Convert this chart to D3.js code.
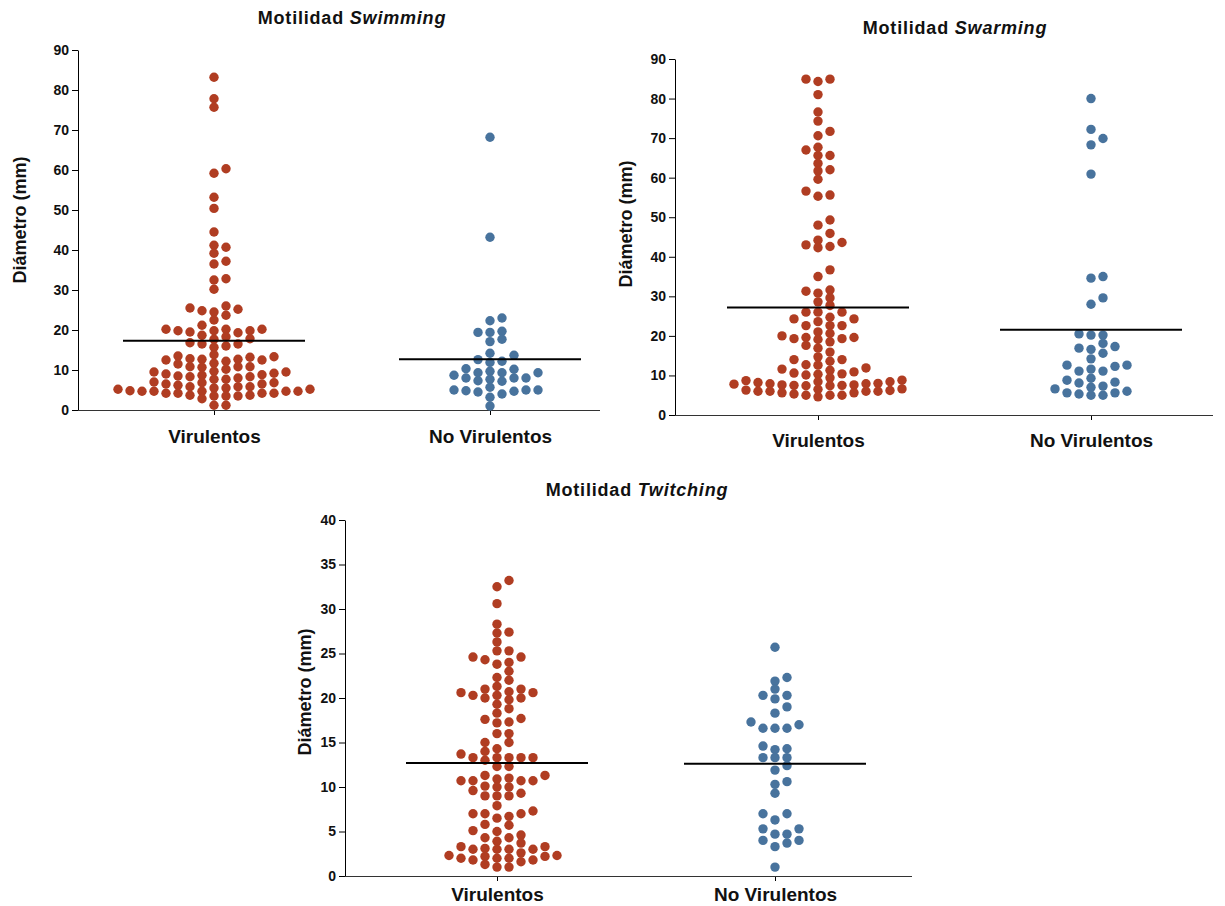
<!DOCTYPE html>
<html>
<head>
<meta charset="utf-8">
<script src="https://cdn.jsdelivr.net/npm/d3@7"></script>
<style>
  html, body { margin: 0; padding: 0; background: #fff; }
  svg { display: block; font-family: "Liberation Sans", Arial, sans-serif; }
</style>
</head>
<body>
<svg id="chart" width="1225" height="906"></svg>
<script>
// Groups shown on every panel
const groups = ["Virulentos", "No Virulentos"];

// Swimming motility diameters (mm)
const swimmingVirulentos = [
  83.2, 77.8, 75.7, 60.3, 59.2, 53.2, 50.4, 44.5, 41.2, 40.7, 39.2, 37.2, 36.5, 32.8, 32.5, 30.2,
  26.0, 25.5, 25.2, 24.8, 24.5, 23.7, 22.5, 21.2, 20.2, 20.2, 20.2, 19.8, 19.8, 19.8, 19.5, 19.3,
  18.7, 18.3, 17.8, 17.7, 16.8, 16.5, 16.5, 16.0, 15.7, 13.8, 13.5, 13.3, 13.2, 12.8, 12.7, 12.7,
  12.5, 12.5, 12.2, 11.7, 11.5, 10.8, 10.8, 10.8, 10.7, 10.2, 9.7, 9.5, 9.5, 9.2, 9.0, 8.8, 8.7,
  8.5, 8.3, 8.3, 8.0, 7.7, 7.7, 7.0, 6.8, 6.8, 6.5, 6.5, 6.2, 5.8, 5.8, 5.8, 5.5, 5.5, 5.2, 5.2,
  4.8, 4.7, 4.7, 4.7, 4.7, 4.7, 4.2, 4.2, 4.2, 4.2, 3.7, 3.7, 3.5, 3.5, 3.5, 2.8, 1.2, 1.2
];
const swimmingNoVirulentos = [
  68.2, 43.2, 23.0, 22.3, 19.7, 19.4, 19.4, 17.7, 17.1, 14.2, 13.7, 12.6, 12.2, 11.9, 10.3, 10.2,
  9.7, 9.3, 9.3, 9.3, 8.7, 8.0, 8.0, 8.0, 7.7, 7.3, 7.2, 5.7, 5.0, 5.0, 5.0, 4.8, 4.7, 4.5, 4.0, 3.2, 1.0
];

// Swarming motility diameters (mm)
const swarmingVirulentos = [
  84.9, 84.9, 84.3, 81.0, 76.6, 74.3, 71.7, 70.6, 67.7, 67.0, 65.6, 65.6, 63.6, 62.0, 61.7, 59.6,
  56.6, 55.6, 55.3, 49.3, 48.0, 45.9, 44.2, 43.6, 43.0, 42.6, 42.3, 36.7, 35.0, 31.6, 31.3, 30.8,
  29.6, 28.6, 27.7, 26.0, 26.0, 26.0, 24.7, 24.3, 24.3, 23.6, 22.6, 22.6, 22.6, 21.0, 20.6, 20.0,
  19.6, 19.6, 19.3, 19.3, 19.1, 18.5, 17.6, 16.9, 15.9, 14.7, 14.0, 14.0, 13.6, 12.7, 12.6, 11.9,
  11.6, 11.3, 10.9, 10.6, 10.4, 10.3, 10.1, 9.4, 8.8, 8.7, 8.4, 8.4, 8.2, 8.0, 7.9, 7.9, 7.8, 7.6,
  7.6, 7.5, 7.5, 7.4, 7.4, 6.6, 6.5, 6.3, 6.2, 6.0, 6.0, 6.0, 6.0, 5.6, 5.6, 5.3, 5.0, 5.0, 5.0, 4.6
];
const swarmingNoVirulentos = [
  80.0, 72.2, 69.9, 68.3, 60.9, 35.0, 34.6, 29.6, 28.0, 20.5, 20.2, 20.2, 18.1, 17.3, 16.9, 16.6,
  15.6, 14.2, 12.6, 12.6, 12.3, 11.6, 11.1, 11.1, 9.3, 8.8, 8.3, 8.1, 7.3, 7.0, 6.6, 6.0, 5.6, 5.6,
  5.3, 5.0, 5.0
];

// Twitching motility diameters (mm)
const twitchingVirulentos = [
  33.2, 32.5, 30.6, 28.3, 27.4, 27.3, 26.3, 25.3, 25.3, 24.6, 24.6, 24.3, 24.0, 23.8, 23.0, 22.3,
  22.0, 21.3, 21.0, 21.0, 20.7, 20.6, 20.6, 20.3, 20.3, 20.0, 20.0, 19.8, 19.3, 18.8, 18.3, 17.7,
  17.6, 17.3, 17.2, 16.0, 16.0, 15.0, 15.0, 14.3, 14.0, 13.7, 13.3, 13.3, 13.3, 13.3, 13.3, 13.0,
  12.3, 12.3, 11.3, 11.3, 11.0, 10.9, 10.7, 10.7, 10.7, 10.7, 10.1, 10.0, 10.0, 9.6, 9.3, 9.0, 9.0,
  9.0, 7.9, 7.3, 7.0, 7.0, 7.0, 6.7, 6.5, 5.8, 5.7, 5.1, 5.0, 4.6, 4.3, 4.3, 3.9, 3.7, 3.3, 3.3,
  3.1, 3.0, 3.0, 3.0, 3.0, 2.6, 2.3, 2.3, 2.2, 2.2, 2.0, 2.0, 2.0, 1.8, 1.8, 1.6, 1.3, 1.0, 1.0
];
const twitchingNoVirulentos = [
  25.7, 22.3, 21.9, 21.0, 20.3, 20.3, 19.9, 19.0, 18.3, 17.3, 17.0, 16.6, 16.6, 16.6, 14.6, 14.3,
  14.2, 13.3, 13.3, 13.3, 12.4, 11.9, 10.6, 10.3, 9.3, 7.0, 7.0, 6.3, 5.3, 5.3, 4.7, 4.7, 4.0, 4.0,
  3.7, 3.3, 1.0
];

// Axis ticks
const ticksSwimming = [0, 10, 20, 30, 40, 50, 60, 70, 80, 90];
const ticksSwarming = [0, 10, 20, 30, 40, 50, 60, 70, 80, 90];
const ticksTwitching = [0, 5, 10, 15, 20, 25, 30, 35, 40];

const colors = { "Virulentos": "#B03D22", "No Virulentos": "#48739D" };
const yTitle = "Diámetro (mm)";

const panels = [
  { title: "Swimming", series: [swimmingVirulentos, swimmingNoVirulentos], ticks: ticksSwimming,
    left: 78, right: 600, top: 50, bottom: 410, first: 136, spacing: 276,
    titleX: 352, titleY: 18, yLabelX: 20, yLabelY: 220, labelGap: 15 },
  { title: "Swarming", series: [swarmingVirulentos, swarmingNoVirulentos], ticks: ticksSwarming,
    left: 675, right: 1213, top: 59, bottom: 415, first: 143, spacing: 273,
    titleX: 955, titleY: 28, yLabelX: 626, yLabelY: 224, labelGap: 14 },
  { title: "Twitching", series: [twitchingVirulentos, twitchingNoVirulentos], ticks: ticksTwitching,
    left: 345, right: 912, top: 520, bottom: 876, first: 152, spacing: 278,
    titleX: 637, titleY: 490, yLabelX: 305, yLabelY: 692, labelGap: 7 }
];

const svg = d3.select("#chart");
const R = 4.7;          // dot radius
const COL = 12;         // horizontal step between swarm columns
const MIN_SEP = 7.5;    // vertical gap needed inside one column
const HALF_MEAN = 91;   // half-length of the mean bar

// Column beeswarm: each value takes the nearest free column around the centre
function swarm(values, y) {
  const order = values.map((v, i) => i).sort((a, b) => values[a] - values[b]);
  const cols = new Map();
  const offs = new Array(values.length);
  for (const i of order) {
    const py = y(values[i]);
    for (let k = 0; ; k++) {
      const c = k === 0 ? 0 : (k % 2 ? (k + 1) / 2 : -k / 2);
      const used = cols.get(c) || [];
      if (used.every(q => Math.abs(q - py) >= MIN_SEP)) {
        used.push(py);
        cols.set(c, used);
        offs[i] = c * COL;
        break;
      }
    }
  }
  return offs;
}

panels.forEach(p => {
  const g = svg.append("g");
  const y = d3.scaleLinear().domain([p.ticks[0], p.ticks[p.ticks.length - 1]]).range([p.bottom, p.top]);
  const x = d3.scalePoint().domain(groups)
    .range([p.left + p.first, p.left + p.first + p.spacing]);

  // y axis
  const yAxis = g.append("g").attr("transform", `translate(${p.left},0)`)
    .call(d3.axisLeft(y).tickValues(p.ticks).tickSize(6).tickPadding(3).tickSizeOuter(0));
  yAxis.select(".domain").attr("stroke", "#000");
  yAxis.selectAll(".tick line").attr("stroke", "#000");
  yAxis.selectAll("text").attr("font-size", 14).attr("font-weight", "bold").attr("fill", "#111")
    .attr("font-family", "'Liberation Sans', Arial, sans-serif");

  // x axis
  const xAxis = g.append("g").attr("transform", `translate(0,${p.bottom})`)
    .call(d3.axisBottom(x).tickSize(5).tickPadding(p.labelGap).tickSizeOuter(0));
  xAxis.select(".domain").remove();
  xAxis.selectAll(".tick line").attr("stroke", "#000");
  xAxis.selectAll("text").attr("font-size", 19).attr("font-weight", "bold").attr("fill", "#111")
    .attr("font-family", "'Liberation Sans', Arial, sans-serif");
  g.append("line")
    .attr("x1", p.left).attr("x2", p.right)
    .attr("y1", p.bottom + 0.5).attr("y2", p.bottom + 0.5)
    .attr("stroke", "#333").attr("stroke-width", 1);

  // title
  const t = g.append("text")
    .attr("x", p.titleX).attr("y", p.titleY).attr("dy", "0.35em")
    .attr("text-anchor", "middle").attr("font-size", 18).attr("letter-spacing", 0.8)
    .attr("font-weight", "bold").attr("fill", "#111");
  t.append("tspan").text("Motilidad ");
  t.append("tspan").attr("font-style", "italic").text(p.title);

  // y title
  g.append("text")
    .attr("transform", `translate(${p.yLabelX},${p.yLabelY}) rotate(-90)`)
    .attr("dy", "0.35em").attr("text-anchor", "middle")
    .attr("font-size", 18).attr("font-weight", "bold").attr("fill", "#111")
    .text(yTitle);

  // dots and mean bars
  groups.forEach((name, gi) => {
    const vals = p.series[gi];
    const offs = swarm(vals, y);
    const cx = x(name);
    g.append("g").selectAll("circle").data(vals).join("circle")
      .attr("cx", (d, i) => cx + offs[i])
      .attr("cy", d => y(d))
      .attr("r", R)
      .attr("fill", colors[name]);
    const m = d3.mean(vals);
    g.append("line")
      .attr("x1", cx - HALF_MEAN).attr("x2", cx + HALF_MEAN)
      .attr("y1", y(m)).attr("y2", y(m))
      .attr("stroke", "#000").attr("stroke-width", 2);
  });
});
</script>
</body>
</html>
